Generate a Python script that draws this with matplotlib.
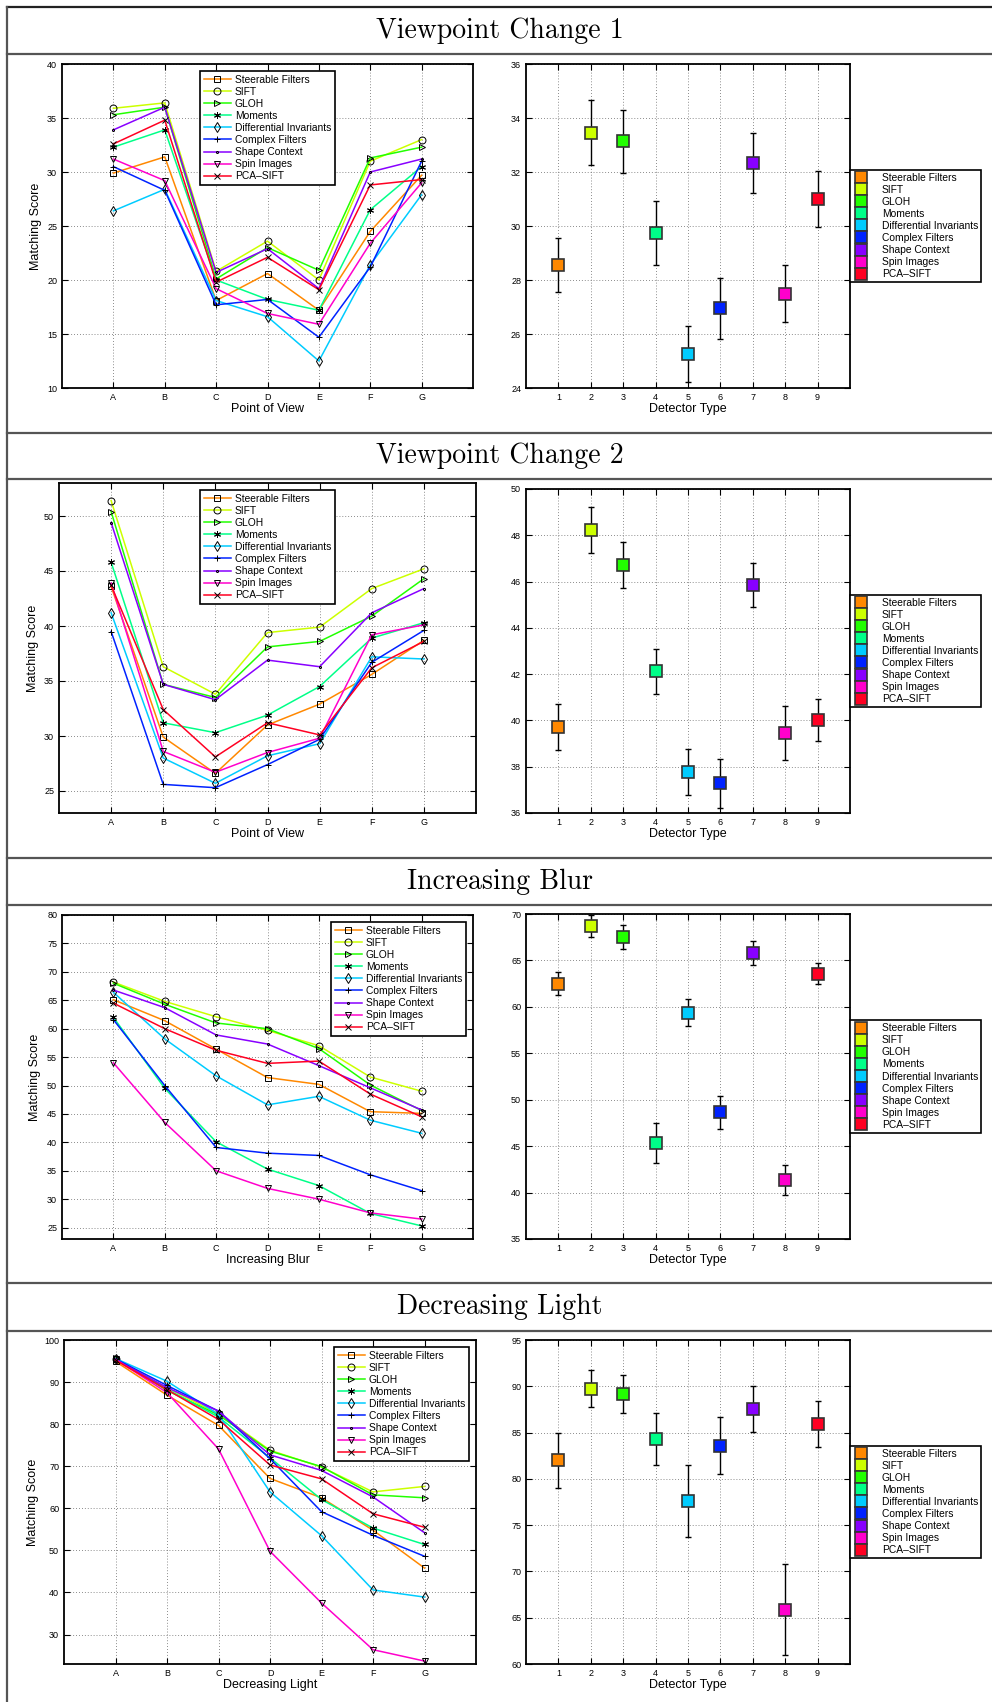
import matplotlib
matplotlib.use('Agg')
import matplotlib.pyplot as plt
import numpy as np
from matplotlib.lines import Line2D

plt.rcParams['font.family'] = ['Liberation Sans', 'DejaVu Sans']

# detectors / descriptors
detectors = ['Steerable Filters', 'SIFT', 'GLOH', 'Moments', 'Differential Invariants',
             'Complex Filters', 'Shape Context', 'Spin Images', 'PCA\u2013SIFT']
colors = ['#FF8800', '#CCFF00', '#22FF00', '#00FF88', '#00CCFF',
          '#0022FF', '#8800FF', '#FF00CC', '#FF0022']
markers = ['s', 'o', '>', (6, 2, 0), 'd', '+', '.', 'v', 'x']
views = ['A', 'B', 'C', 'D', 'E', 'F', 'G']

# Viewpoint Change 1
vp1_scores = [
    [29.9, 31.4, 18.1, 20.6, 17.2, 24.5, 29.7],
    [35.9, 36.4, 20.8, 23.6, 20.0, 31.0, 33.0],
    [35.3, 36.0, 20.1, 23.0, 20.9, 31.3, 32.3],
    [32.3, 33.9, 20.0, 18.2, 17.2, 26.5, 30.5],
    [26.4, 28.4, 18.1, 16.6, 12.5, 21.4, 27.9],
    [30.5, 28.3, 17.7, 18.2, 14.7, 21.2, 31.0],
    [33.9, 36.0, 20.7, 22.9, 19.2, 30.0, 31.2],
    [31.2, 29.2, 19.2, 16.9, 15.9, 23.4, 29.0],
    [32.6, 34.8, 19.8, 22.1, 19.1, 28.8, 29.3],
]
vp1_mean = [28.55, 33.46, 33.13, 29.73, 25.25, 26.95, 32.34, 27.49, 31.0]
vp1_err = [1.0, 1.19, 1.15, 1.18, 1.03, 1.12, 1.12, 1.05, 1.05]

# Viewpoint Change 2
vp2_scores = [
    [43.6, 29.9, 26.6, 31.0, 32.9, 35.6, 38.7],
    [51.4, 36.3, 33.8, 39.4, 39.9, 43.4, 45.2],
    [50.4, 34.7, 33.5, 38.1, 38.6, 40.9, 44.3],
    [45.8, 31.2, 30.3, 31.9, 34.5, 38.9, 40.3],
    [41.2, 28.0, 25.7, 28.2, 29.3, 37.2, 37.0],
    [39.5, 25.6, 25.3, 27.4, 29.7, 36.7, 39.6],
    [49.4, 34.7, 33.3, 36.9, 36.3, 41.2, 43.4],
    [43.9, 28.6, 26.7, 28.5, 29.8, 39.2, 40.1],
    [43.7, 32.4, 28.1, 31.2, 30.1, 36.2, 38.6],
]
vp2_mean = [39.7, 48.24, 46.72, 42.12, 37.76, 37.28, 45.85, 39.44, 40.02]
vp2_err = [0.99, 1.0, 0.98, 0.97, 1.0, 1.07, 0.95, 1.17, 0.92]

# Increasing Blur
blur_scores = [
    [65.1, 61.4, 56.4, 51.4, 50.2, 45.4, 45.1],
    [68.2, 64.8, 62.1, 59.7, 57.0, 51.5, 49.0],
    [68.0, 64.3, 61.0, 60.0, 56.5, 50.1, 45.6],
    [62.0, 49.5, 40.1, 35.3, 32.4, 27.5, 25.3],
    [66.4, 58.2, 51.7, 46.6, 48.1, 43.9, 41.6],
    [61.6, 50.0, 39.1, 38.1, 37.7, 34.3, 31.5],
    [66.8, 63.7, 58.9, 57.3, 53.5, 49.6, 45.7],
    [54.0, 43.5, 35.0, 31.9, 30.0, 27.6, 26.5],
    [64.5, 60.0, 56.2, 53.9, 54.3, 48.5, 44.5],
]
blur_mean = [62.48, 68.67, 67.55, 45.36, 59.39, 48.63, 65.76, 41.37, 63.56]
blur_err = [1.25, 1.2, 1.3, 2.15, 1.45, 1.75, 1.28, 1.65, 1.13]

# Decreasing Light
light_scores = [
    [94.9, 86.9, 79.7, 67.1, 62.5, 54.8, 45.8],
    [95.5, 88.6, 82.5, 73.8, 69.8, 63.9, 65.2],
    [95.7, 88.0, 82.2, 73.6, 69.9, 63.2, 62.5],
    [95.5, 88.3, 81.7, 72.0, 62.1, 55.3, 51.4],
    [95.6, 90.2, 82.3, 63.9, 53.5, 40.6, 38.9],
    [95.5, 89.2, 83.1, 71.8, 59.2, 53.6, 48.6],
    [95.3, 88.7, 83.1, 72.7, 69.0, 62.7, 54.2],
    [95.4, 87.5, 74.1, 49.8, 37.5, 26.4, 23.7],
    [95.2, 88.2, 81.1, 70.3, 67.0, 58.7, 55.5],
]
light_mean = [82.0, 89.75, 89.17, 84.32, 77.59, 83.6, 87.55, 65.86, 85.94]
light_err = [3.0, 2.0, 2.1, 2.8, 3.9, 3.05, 2.45, 4.9, 2.47]

W, H = 992, 1702
fig = plt.figure(figsize=(W / 100, H / 100), dpi=100)


def box(x0, y0, x1, y1):
    # pixel box (top-left origin) -> figure fraction
    return [x0 / W, 1 - y1 / H, (x1 - x0) / W, (y1 - y0) / H]


def matlab_style(ax):
    ax.grid(True, linestyle=(0, (1, 2.5)), color='#666666', linewidth=0.6)
    ax.tick_params(direction='in', top=True, right=True, labelsize=6.5, length=4, width=0.8)
    for s in ax.spines.values():
        s.set_linewidth(1.3)


def draw_lines(ax, scores, xlabel, yticks, ylim, loc):
    x = np.arange(1, len(views) + 1)
    for name, col, mk, ys in zip(detectors, colors, markers, scores):
        ms = 3 if mk == '.' else 5
        ax.plot(x, ys, color=col, lw=1.1, marker=mk, ms=ms, mfc='none',
                mec='k', mew=0.7, label=name)
    ax.set_xlim(0, 8)
    ax.set_xticks(x)
    ax.set_xticklabels(views)
    ax.set_ylim(*ylim)
    ax.set_yticks(yticks)
    ax.set_xlabel(xlabel, fontsize=9, labelpad=1)
    ax.set_ylabel('Matching Score', fontsize=9)
    matlab_style(ax)
    leg = ax.legend(loc=loc, fontsize=7.4, fancybox=False, edgecolor='k', framealpha=1,
                    handlelength=2.6, labelspacing=0.2, borderpad=0.35,
                    borderaxespad=0.7, handletextpad=0.4)
    leg.get_frame().set_linewidth(1.2)


def draw_bars(ax, means, errs, yticks, ylim):
    x = np.arange(1, len(detectors) + 1)
    for xi, m, e, col, name in zip(x, means, errs, colors, detectors):
        ax.errorbar(xi, m, yerr=e, fmt='none', ecolor='k', elinewidth=1, capsize=2, capthick=1)
        ax.plot(xi, m, 's', ms=9, mfc=col, mec='#333333', mew=1.2, label=name)
    ax.set_xlim(0, 10)
    ax.set_xticks(x)
    ax.set_ylim(*ylim)
    ax.set_yticks(yticks)
    ax.set_xlabel('Detector Type', fontsize=9, labelpad=1)
    matlab_style(ax)
    leg = ax.legend(loc='center left', bbox_to_anchor=(1, 0.5), fontsize=7.4, fancybox=False,
                    edgecolor='k', framealpha=1, borderaxespad=0, handletextpad=1.2,
                    labelspacing=0.2, borderpad=0.3, markerscale=0.95, handlelength=1.6)
    leg.get_frame().set_linewidth(1.2)


rows = [
    ('Viewpoint Change 1', 7, 54, 433,
     vp1_scores, 'Point of View', np.arange(10, 41, 5), (10, 40), 'upper center',
     vp1_mean, vp1_err, np.arange(24, 37, 2), (24, 36),
     (62, 64, 473, 388), (526, 64, 850, 388)),
    ('Viewpoint Change 2', 433, 479, 858,
     vp2_scores, 'Point of View', np.arange(25, 51, 5), (23, 53), 'upper center',
     vp2_mean, vp2_err, np.arange(36, 51, 2), (36, 50),
     (59, 483, 476, 813), (526, 489, 850, 813)),
    ('Increasing Blur', 858, 905, 1283,
     blur_scores, 'Increasing Blur', np.arange(25, 81, 5), (23, 80), 'upper right',
     blur_mean, blur_err, np.arange(35, 71, 5), (35, 70),
     (62, 915, 473, 1239), (526, 914, 850, 1239)),
    ('Decreasing Light', 1283, 1331, 1702,
     light_scores, 'Decreasing Light', np.arange(30, 101, 10), (23, 100), 'upper right',
     light_mean, light_err, np.arange(60, 96, 5), (60, 95),
     (64, 1340, 476, 1664), (526, 1340, 850, 1664)),
]

for (title, top, sep, bottom, scores, xlab, yt, yl, loc,
     means, errs, yt2, yl2, lbox, rbox) in rows:
    # table-like frame lines
    fig.add_artist(Line2D([7 / W, 1], [1 - top / H] * 2, color='#222222' if top < 10 else '#555555', lw=1.6))
    fig.add_artist(Line2D([7 / W, 1], [1 - sep / H] * 2, color='#555555', lw=1.6))
    fig.text(500 / W, 1 - (top + sep) / 2 / H, title, family='cmr10', fontsize=20,
             ha='center', va='center')
    ax1 = fig.add_axes(box(*lbox))
    draw_lines(ax1, scores, xlab, yt, yl, loc)
    ax2 = fig.add_axes(box(*rbox))
    draw_bars(ax2, means, errs, yt2, yl2)

fig.add_artist(Line2D([7 / W, 7 / W], [1 - 7 / H, 0], color='#555555', lw=1.6))

fig.savefig('out.png', dpi=100)
